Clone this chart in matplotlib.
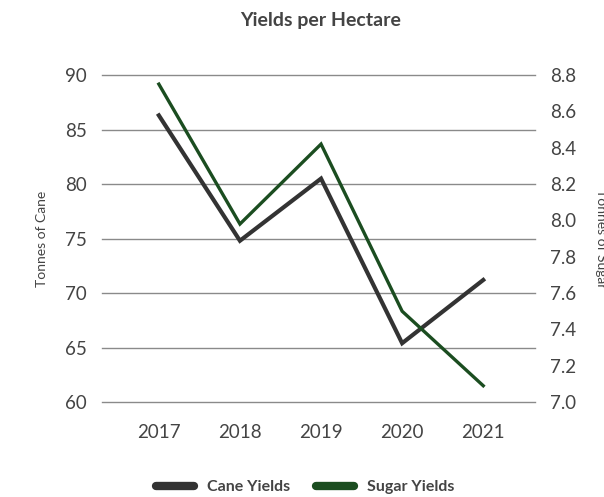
import matplotlib.pyplot as plt
from matplotlib.lines import Line2D

years = ["2017", "2018", "2019", "2020", "2021"]
cane_yields = [86.3, 74.8, 80.5, 65.4, 71.2]
sugar_yields = [8.75, 7.98, 8.42, 7.50, 7.09]

cane_ticks = [60, 65, 70, 75, 80, 85, 90]
sugar_ticks = [7.0, 7.2, 7.4, 7.6, 7.8, 8.0, 8.2, 8.4, 8.6, 8.8]

cane_color = "#333333"
sugar_color = "#1b4d20"
text_color = "#444444"
grid_color = "#8a8a8a"

plt.rcParams["font.family"] = ["Lato", "DejaVu Sans"]

fig = plt.figure(figsize=(6.04, 4.97), dpi=100)
ax = fig.add_axes([0.169, 0.191, 0.717, 0.658])
ax2 = ax.twinx()

x = list(range(len(years)))
ax.plot(x, cane_yields, color=cane_color, linewidth=3.0, solid_joinstyle="miter", zorder=3)
ax2.plot(x, sugar_yields, color=sugar_color, linewidth=2.4, solid_joinstyle="miter", zorder=3)

ax.set_xlim(-0.7, 4.64)
ax.set_ylim(60, 90)
ax2.set_ylim(7.0, 8.8)

ax.set_yticks(cane_ticks)
ax.set_yticklabels([str(t) for t in cane_ticks])
ax2.set_yticks(sugar_ticks)
ax2.set_yticklabels([f"{t:.1f}" for t in sugar_ticks])
ax.set_xticks(x)
ax.set_xticklabels(years)

# horizontal grid shared by both axes
for t in cane_ticks:
    ax.axhline(t, color=grid_color, linewidth=1.0, zorder=1, clip_on=False)

for a in (ax, ax2):
    for s in a.spines.values():
        s.set_visible(False)
    a.tick_params(length=0, labelsize=13.5, labelcolor=text_color)
ax.tick_params(axis="y", pad=11)
ax2.tick_params(axis="y", pad=11)
ax.tick_params(axis="x", pad=16)

ax.set_ylabel("Tonnes of Cane", fontsize=10, color=text_color, labelpad=12)
ax2.set_ylabel("Tonnes of Sugar", fontsize=10, color=text_color, rotation=270,
               labelpad=22)

fig.text(0.53, 0.958, "Yields per Hectare", ha="center", va="center",
         fontsize=14, fontweight="bold", color=text_color)

handles = [
    Line2D([0], [0], color=cane_color, linewidth=6, solid_capstyle="round"),
    Line2D([0], [0], color=sugar_color, linewidth=6, solid_capstyle="round"),
]
leg = fig.legend(handles, ["Cane Yields", "Sugar Yields"], loc="center",
                 bbox_to_anchor=(0.505, 0.02), ncol=2, frameon=False,
                 handlelength=2.4, columnspacing=1.6, handletextpad=0.8,
                 prop={"weight": "bold", "size": 11.5})
for txt in leg.get_texts():
    txt.set_color(text_color)

fig.savefig("out.png", dpi=100)
